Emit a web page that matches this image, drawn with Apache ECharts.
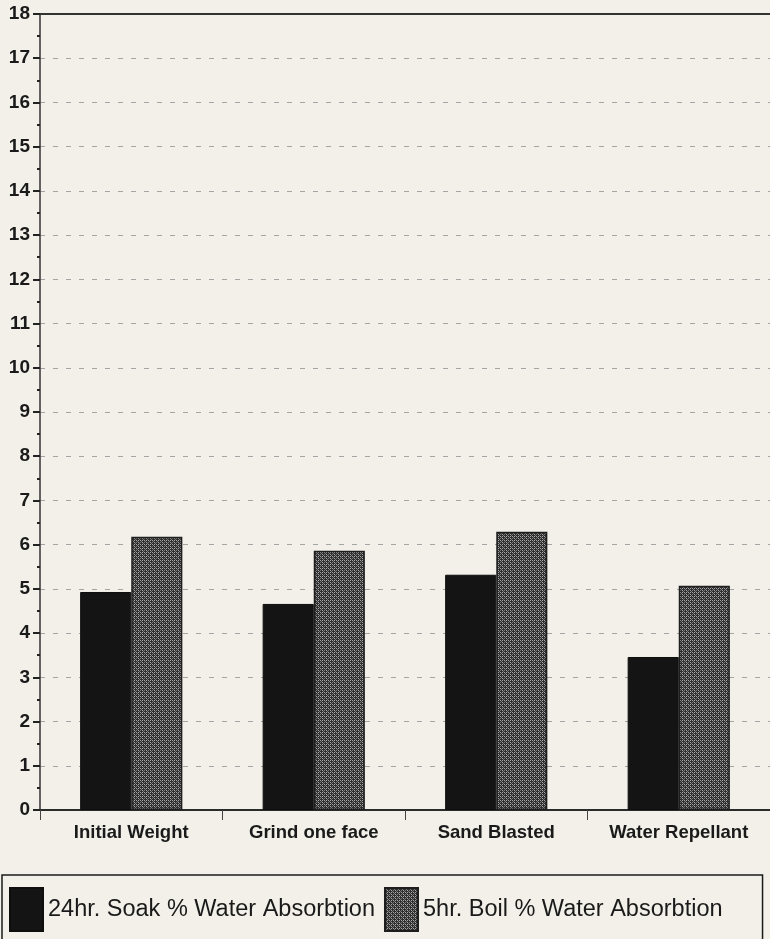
<!DOCTYPE html>
<html>
<head>
<meta charset="utf-8">
<script src="https://cdn.jsdelivr.net/npm/echarts@6/dist/echarts.min.js"></script>
<style>
  html, body { margin: 0; padding: 0; background: #f2f0e8; }
  #chart { width: 770px; height: 939px; }
</style>
</head>
<body>
<div id="chart"></div>
<script>
// Water absorption by surface treatment
const categories = ['Initial Weight', 'Grind one face', 'Sand Blasted', 'Water Repellant'];
const soak24hr = [4.93, 4.66, 5.32, 3.46];
const boil5hr = [6.18, 5.86, 6.29, 5.07];
const seriesNames = ['24hr. Soak % Water Absorbtion', '5hr. Boil % Water Absorbtion'];

// Stippled fill for the boil series
function stipple() {
  const c = document.createElement('canvas');
  c.width = 4; c.height = 4;
  const g = c.getContext('2d');
  g.fillStyle = '#2e2e2e';
  g.fillRect(0, 0, 4, 4);
  g.fillStyle = '#a8a8a8';
  g.fillRect(0, 0, 1, 1);
  g.fillRect(2, 2, 1, 1);
  g.fillRect(2, 0, 1, 1);
  g.fillStyle = '#777';
  g.fillRect(0, 2, 1, 1);
  g.fillRect(1, 1, 1, 1);
  g.fillRect(3, 3, 1, 1);
  return c;
}
const boilFill = { image: stipple(), repeat: 'repeat' };

const chart = echarts.init(document.getElementById('chart'), null, { renderer: 'canvas' });
chart.setOption({
  backgroundColor: '#f2f0e8',
  animation: false,
  grid: { left: 40, right: 0, top: 14, bottom: 129, containLabel: false },
  legend: {
    left: 2,
    top: 875,
    padding: [12, 40, 14, 7],
    itemGap: 9,
    itemWidth: 33,
    itemHeight: 43,
    borderColor: '#1a1a1a',
    borderWidth: 1.5,
    icon: 'rect',
    textStyle: { fontFamily: 'Arial, "Liberation Sans"', fontSize: 23.5, color: '#1a1a1a' },
    data: seriesNames
  },
  xAxis: {
    type: 'category',
    data: categories,
    axisLine: { lineStyle: { color: '#2a2a2a', width: 2 } },
    axisTick: { show: true, interval: 0, length: 10, lineStyle: { color: '#444', width: 1 } },
    axisLabel: { interval: 0, fontFamily: 'Arial, "Liberation Sans"', fontWeight: 'bold', fontSize: 18.5, color: '#1a1a1a', margin: 13 },
    splitLine: { show: false }
  },
  yAxis: {
    type: 'value',
    min: 0,
    max: 18,
    interval: 1,
    axisLine: { show: true, lineStyle: { color: '#333', width: 1.5 } },
    axisTick: { show: true, inside: false, length: 7, lineStyle: { color: '#222', width: 2 } },
    minorTick: { show: true, splitNumber: 2, length: 3, lineStyle: { color: '#222', width: 2 } },
    axisLabel: { fontFamily: 'Arial, "Liberation Sans"', fontWeight: 'bold', fontSize: 19, color: '#1a1a1a', margin: 10 },
    splitLine: { show: true, lineStyle: { color: '#a4a4a4', width: 1, type: [5, 8] } }
  },
  series: [
    {
      name: seriesNames[0],
      type: 'bar',
      data: soak24hr,
      barGap: '0%',
      barCategoryGap: '44%',
      itemStyle: { color: '#141414', borderColor: '#0e0e0e', borderWidth: 1 }
    },
    {
      name: seriesNames[1],
      type: 'bar',
      data: boil5hr,
      barGap: '0%',
      barCategoryGap: '44%',
      itemStyle: { color: boilFill, borderColor: '#1e1e1e', borderWidth: 1.5 },
      markLine: {
        silent: true,
        symbol: 'none',
        label: { show: false },
        lineStyle: { color: '#333', width: 2, type: 'solid' },
        data: [{ yAxis: 18 }]
      }
    }
  ]
});
</script>
</body>
</html>
